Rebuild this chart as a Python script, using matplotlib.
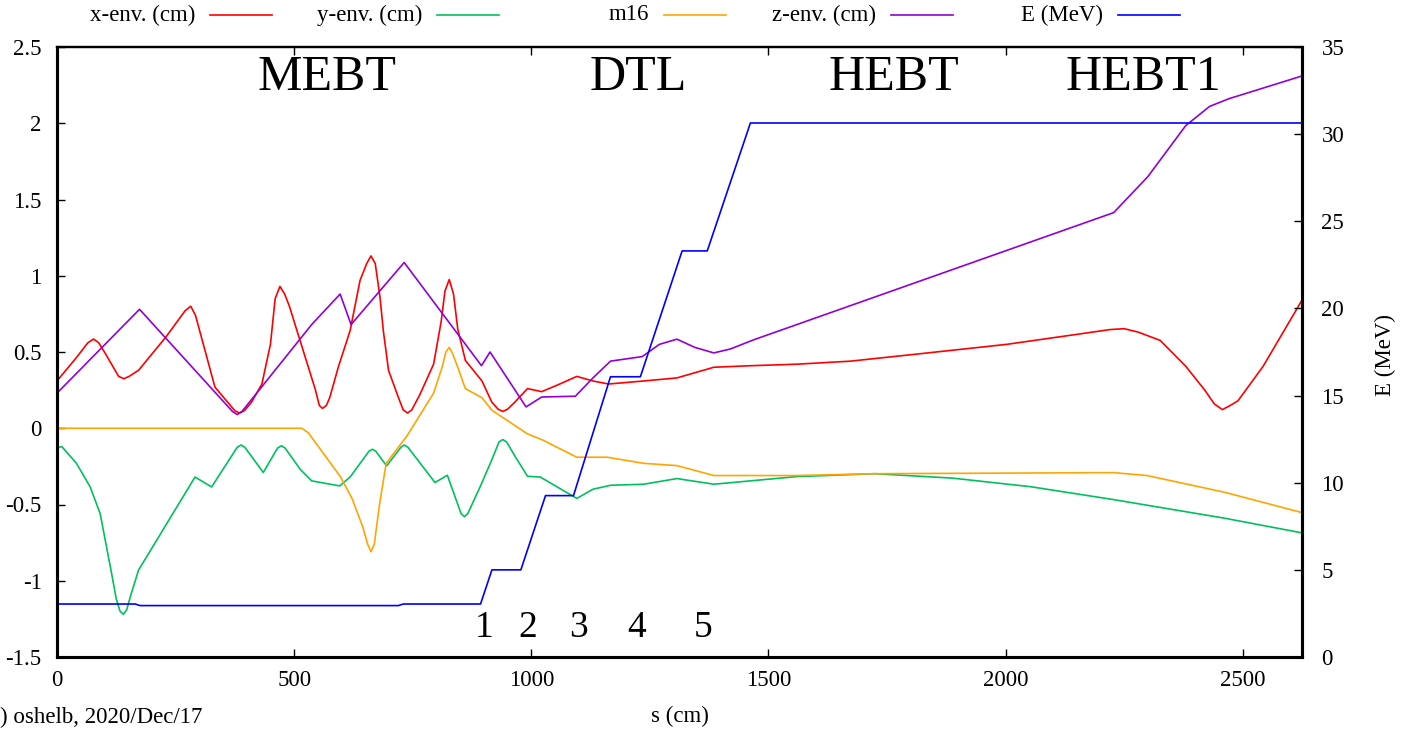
# -*- coding: utf-8 -*-
import numpy as np
import matplotlib
matplotlib.use("Agg")
import matplotlib.pyplot as plt
from matplotlib.lines import Line2D

plt.rcParams['font.family'] = ['Liberation Serif', 'DejaVu Serif']

# -----------------------------------------------------------------------------
# data (s in cm)
x_env_s = [0, 40, 65, 77, 88, 100, 130, 141, 152, 172, 230, 270, 282, 292,
           333, 360, 375, 385, 395, 410, 432, 450, 460, 470, 480, 490, 523,
           545, 553, 560, 568, 575, 593, 618, 639, 653, 662, 671, 681, 688,
           699, 720, 730, 739, 748, 765, 794, 810, 818, 827, 836, 845, 861,
           896, 917, 930, 940, 950, 965, 992, 1022, 1060, 1096, 1130, 1163,
           1237, 1307, 1385, 1462, 1560, 1673, 1806, 2002, 2160, 2220, 2250,
           2280, 2326, 2380, 2420, 2440, 2457, 2474, 2490, 2543, 2625]
x_env = [0.31, 0.46, 0.56, 0.585, 0.56, 0.50, 0.34, 0.325, 0.34, 0.38, 0.60,
         0.77, 0.80, 0.74, 0.27, 0.17, 0.115, 0.10, 0.115, 0.17, 0.29, 0.55,
         0.85, 0.93, 0.88, 0.80, 0.47, 0.25, 0.15, 0.13, 0.15, 0.20, 0.40,
         0.64, 0.97, 1.08, 1.13, 1.08, 0.86, 0.64, 0.38, 0.20, 0.12, 0.10,
         0.12, 0.22, 0.42, 0.70, 0.90, 0.975, 0.88, 0.65, 0.445, 0.31, 0.17,
         0.125, 0.11, 0.125, 0.17, 0.26, 0.24, 0.29, 0.34, 0.31, 0.29, 0.31,
         0.33, 0.40, 0.41, 0.42, 0.44, 0.484, 0.55, 0.62, 0.647, 0.653, 0.63,
         0.576, 0.406, 0.25, 0.16, 0.122, 0.15, 0.18, 0.406, 0.84]

y_env_s = [0, 10, 41, 70, 91, 115, 125, 133, 140, 147, 155, 172, 291, 326,
           380, 388, 396, 435, 465, 473, 481, 513, 537, 596, 618, 658, 665,
           672, 695, 725, 732, 740, 797, 823, 852, 859, 866, 892, 915, 932,
           940, 948, 965, 992, 1019, 1096, 1130, 1167, 1237, 1307, 1385, 1462,
           1560, 1724, 1888, 2052, 2228, 2462, 2625]
y_env = [-0.13, -0.12, -0.23, -0.385, -0.56, -0.95, -1.12, -1.20, -1.22,
         -1.19, -1.10, -0.93, -0.32, -0.385, -0.125, -0.11, -0.125, -0.29,
         -0.13, -0.115, -0.13, -0.27, -0.345, -0.378, -0.32, -0.15, -0.138,
         -0.15, -0.247, -0.125, -0.11, -0.125, -0.356, -0.308, -0.56, -0.58,
         -0.56, -0.385, -0.22, -0.09, -0.074, -0.09, -0.18, -0.315, -0.32,
         -0.46, -0.40, -0.374, -0.367, -0.33, -0.367, -0.345, -0.317, -0.298,
         -0.327, -0.383, -0.468, -0.59, -0.686]

m16_s = [0, 516, 530, 597, 622, 645, 655, 662, 669, 680, 694, 738, 794, 812,
         820, 827, 834, 845, 861, 896, 917, 991, 1026, 1096, 1160, 1237,
         1307, 1385, 1560, 1724, 2228, 2298, 2462, 2625]
m16 = [0, 0, -0.03, -0.315, -0.46, -0.65, -0.76, -0.81, -0.76, -0.50, -0.23,
       -0.05, 0.23, 0.40, 0.50, 0.53, 0.49, 0.40, 0.26, 0.20, 0.118, -0.035,
       -0.08, -0.19, -0.19, -0.23, -0.245, -0.31, -0.31, -0.298, -0.291,
       -0.31, -0.42, -0.553]

z_env_s = [0, 174, 370, 380, 390, 537, 597, 620, 732, 895, 913, 989, 1022,
           1093, 1130, 1167, 1234, 1270, 1307, 1345, 1385, 1420, 1469, 2228,
           2300, 2380, 2430, 2470, 2625]
z_env = [0.23, 0.78, 0.11, 0.09, 0.11, 0.68, 0.88, 0.68, 1.087, 0.41, 0.50,
         0.14, 0.205, 0.21, 0.33, 0.44, 0.47, 0.55, 0.584, 0.53, 0.494, 0.52,
         0.58, 1.414, 1.65, 1.985, 2.11, 2.16, 2.31]

energy_s = [0, 165, 175, 720, 730, 893, 917, 978, 1030, 1089, 1167, 1230,
            1318, 1371, 1462, 2625]
energy = [3.04, 3.04, 2.95, 2.95, 3.04, 3.04, 5.0, 5.0, 9.26, 9.26, 16.08,
          16.08, 23.3, 23.3, 30.64, 30.64]

section_names = ['MEBT', 'DTL', 'HEBT', 'HEBT1']
section_pos = [570, 1226, 1764, 2291]
tank_names = ['1', '2', '3', '4', '5']
tank_pos = [901, 992, 1099, 1222, 1363]

y1_ticks = [-1.5, -1, -0.5, 0, 0.5, 1, 1.5, 2, 2.5]
y1_labels = ['-1.5', '-1', '-0.5', '0', '0.5', '1', '1.5', '2', '2.5']
y2_ticks = [0, 5, 10, 15, 20, 25, 30, 35]
x_ticks = [0, 500, 1000, 1500, 2000, 2500]

# -----------------------------------------------------------------------------
fig = plt.figure(figsize=(14.08, 7.31), dpi=100)
ax = fig.add_axes([57 / 1408, 1 - 657 / 731, (1302 - 57) / 1408, 610 / 731])
ax2 = ax.twinx()

fontSz = 16.5
lw = 1.2
l1, = ax.plot(x_env_s, x_env, color='#ff0000', lw=lw)
l2, = ax.plot(y_env_s, y_env, color='#00c060', lw=lw)
l3, = ax.plot(m16_s, m16, color='#ffa500', lw=lw)
l4, = ax.plot(z_env_s, z_env, color='#9400d3', lw=lw)
l5, = ax2.plot(energy_s, energy, color='#0000ff', lw=lw)

ax.set_xlim(0, 2625)
ax.set_ylim(-1.5, 2.5)
ax2.set_ylim(0, 35)

ax.set_xticks(x_ticks)
ax.set_xticklabels([str(t) for t in x_ticks], fontsize=fontSz)
ax.set_yticks(y1_ticks)
ax.set_yticklabels(y1_labels, fontsize=fontSz)
ax2.set_yticks(y2_ticks)
ax2.set_yticklabels([str(t) for t in y2_ticks], fontsize=fontSz)

ax.tick_params(axis='x', direction='in', length=6, width=1, pad=9,
               top=True)
ax.tick_params(axis='y', direction='in', length=6, width=1, pad=11)
ax2.tick_params(axis='y', direction='in', length=6, width=1, pad=14)
for a in (ax, ax2):
    for sp in a.spines.values():
        sp.set_linewidth(2.2)
    a.spines['top'].set_linewidth(1.6)

for name, s in zip(section_names, section_pos):
    ax.text(s, 2.30, name, fontsize=36, ha='center', va='center')
for name, s in zip(tank_names, tank_pos):
    ax.text(s, -1.31, name, fontsize=27, ha='center', va='center')

# key along the top, text left of sample
labels = ['x-env. (cm)', 'y-env. (cm)', 'm16', 'z-env. (cm)', 'E (MeV)']
handles = [l1, l2, l3, l4, l5]
ky = 1 - 15 / 731
for i, (h, lab) in enumerate(zip(handles, labels)):
    xe = (195 + 227 * i) / 1408
    fig.text(xe, ky, lab, fontsize=fontSz, ha='right', va='center')
    fig.add_artist(Line2D([xe + 15 / 1408, xe + 77 / 1408], [ky, ky],
                          color=h.get_color(), lw=lw))

fig.text(680 / 1408, 1 - 716 / 731, 's (cm)', fontsize=fontSz,
         ha='center', va='center')
fig.text(1385 / 1408, 1 - 355 / 731, 'E (MeV)', fontsize=fontSz,
         ha='center', va='center', rotation=90)
fig.text(0, 1 - 717 / 731, ') oshelb, 2020/Dec/17', fontsize=fontSz,
         ha='left', va='center')

fig.savefig('out.png', dpi=100)
